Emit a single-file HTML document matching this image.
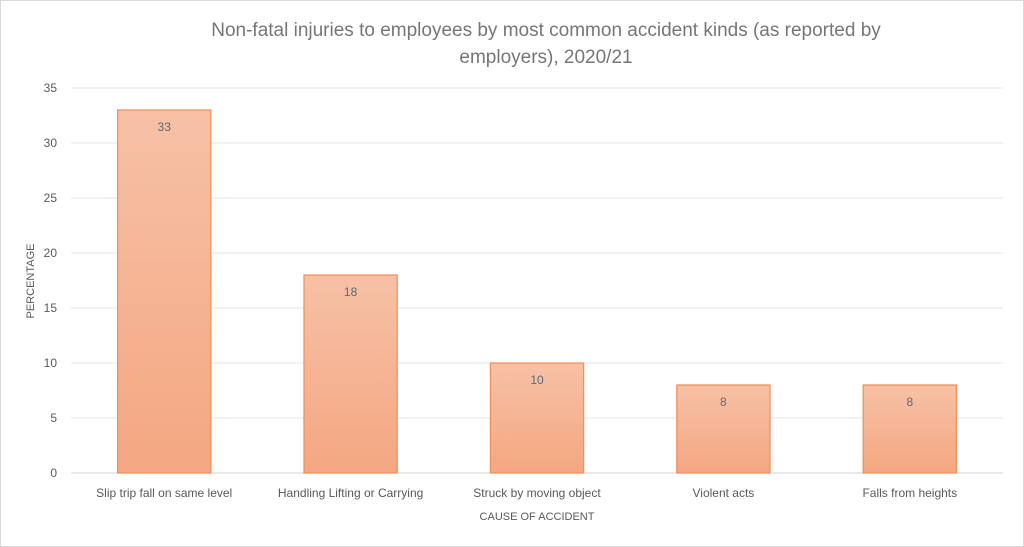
<!DOCTYPE html>
<html><head><meta charset="utf-8"><style>
body{margin:0;background:#fff;font-family:"Liberation Sans",sans-serif}
svg{display:block}
</style></head><body>
<svg id="chart" width="1024" height="547">
<defs><linearGradient id="g" x1="0" y1="0" x2="0" y2="1"><stop offset="0" stop-color="#f7c1a6"/><stop offset="1" stop-color="#f4a781"/></linearGradient></defs>
<rect x="0.5" y="0.5" width="1023" height="546" fill="#fff" stroke="#d9d9d9"/>
<text x="546" y="36" text-anchor="middle" font-size="19" fill="#767676">Non-fatal injuries to employees by most common accident kinds (as reported by</text>
<text x="546" y="63" text-anchor="middle" font-size="19" fill="#767676">employers), 2020/21</text>
<text transform="translate(34,281) rotate(-90)" text-anchor="middle" font-size="11" fill="#595959">PERCENTAGE</text>
<text x="537" y="520" text-anchor="middle" font-size="11" fill="#595959">CAUSE OF ACCIDENT</text>
<g id="grid"></g><g id="bars"></g><g id="labels"></g>
</svg>
<script>
const categories=["Slip trip fall on same level","Handling Lifting or Carrying","Struck by moving object","Violent acts","Falls from heights"];
const values=[33,18,10,8,8];
const yTicks=[0,5,10,15,20,25,30,35];
const NS="http://www.w3.org/2000/svg";
const x0=71,x1=1003,yBase=473,yTop=88,yMax=35;
const y=v=>yBase-(v/yMax)*(yBase-yTop);
const band=(x1-x0)/categories.length;
const xc=i=>x0+band*(i+0.5);
function mk(t,a,p){const e=document.createElementNS(NS,t);for(const k in a)e.setAttribute(k,a[k]);p.appendChild(e);return e;}
const grid=document.getElementById('grid'),bars=document.getElementById('bars'),labels=document.getElementById('labels');
yTicks.forEach(v=>{
const l=mk('line',{x1:x0,x2:x1,y1:y(v),y2:y(v),stroke:v===0?'#d0d0d0':'#e4e4e4','stroke-width':1},grid);


const t=mk('text',{x:57,y:y(v)+4,'text-anchor':'end','font-size':12,fill:'#595959'},grid);
t.textContent=v;


});
const bw=band*0.5;
values.forEach((v,i)=>{
const r=mk('rect',{x:xc(i)-bw/2,y:y(v),width:bw,height:yBase-y(v),fill:'url(#g)',stroke:'#f0915e','stroke-width':1.3},bars);


const t=mk('text',{x:xc(i),y:y(v)+21,'text-anchor':'middle','font-size':12,fill:'#5a6a78'},labels);
t.textContent=v;


const c=mk('text',{x:xc(i),y:497,'text-anchor':'middle','font-size':12,fill:'#595959'},labels);
c.textContent=categories[i];


});
</script>
</body></html>
